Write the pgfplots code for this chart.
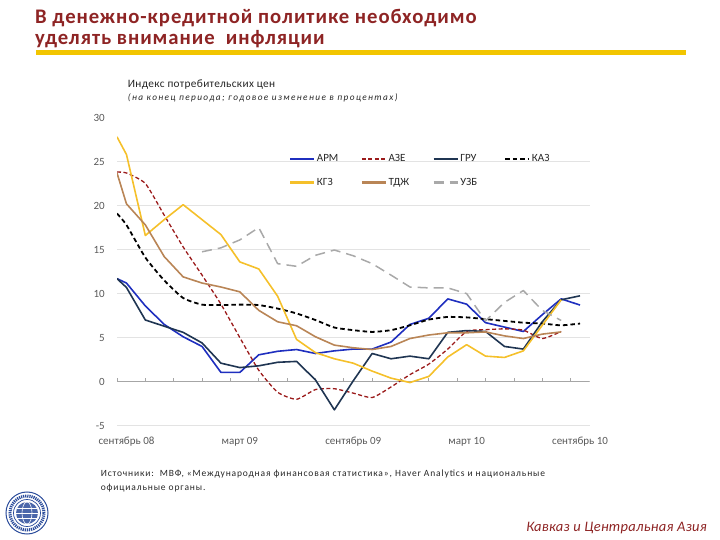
\documentclass[border=0pt]{standalone}
\usepackage{pgfplots}
\pgfplotsset{compat=1.18}
\usepackage{fontspec}
\setmainfont{Carlito}
\definecolor{titlered}{HTML}{8E2424}
\definecolor{baryellow}{HTML}{F2C500}
\definecolor{armc}{HTML}{1F2FBF}
\definecolor{azec}{HTML}{9B1B1B}
\definecolor{gruc}{HTML}{1F3552}
\definecolor{kazc}{HTML}{000000}
\definecolor{kgzc}{HTML}{F5C02A}
\definecolor{tjkc}{HTML}{B98556}
\definecolor{uzbc}{HTML}{A9A9A9}
\definecolor{labgray}{HTML}{595959}
\definecolor{gridc}{HTML}{E3E3E3}
\definecolor{axisc}{HTML}{A6A6A6}
\definecolor{imfblue}{HTML}{2B4C9B}
\definecolor{txt}{HTML}{262626}
\begin{document}
\begin{tikzpicture}
\path[use as bounding box] (0bp,0bp) rectangle (720bp,540bp);
% title
\node[anchor=base west, inner sep=0pt, text=titlered, font=\fontsize{20.7bp}{24bp}\selectfont\bfseries\addfontfeatures{LetterSpace=4.6}] at (35bp,516.7bp) {В денежно-кредитной политике необходимо};
\node[anchor=base west, inner sep=0pt, text=titlered, font=\fontsize{20.7bp}{24bp}\selectfont\bfseries\addfontfeatures{LetterSpace=4.5}] at (35bp,495bp) {уделять внимание\ \ инфляции};
\fill[baryellow] (36bp,485bp) rectangle (686bp,489.5bp);
% subtitle
\node[anchor=base west, inner sep=0pt, font=\fontsize{11.3bp}{13bp}\selectfont\addfontfeatures{LetterSpace=3}, text=txt] at (127.7bp,452bp) {Индекс потребительских цен};
\node[anchor=base west, inner sep=0pt, font=\fontsize{9.3bp}{11bp}\selectfont\itshape\addfontfeatures{LetterSpace=15}, text=txt] at (127.7bp,439bp) {(на конец периода; годовое изменение в процентах)};
\begin{axis}[
  at={(117bp,114.3bp)}, anchor=south west,
  scale only axis, width=472.5bp, height=308.2bp,
  xmin=-0.5, xmax=24.5, ymin=-5, ymax=30,
  axis line style={draw=none},
  tick style={draw=none},
  xtick={0,6,12,18,24},
  xticklabels={сентябрь 08, март 09, сентябрь 09, март 10, сентябрь 10},
  ytick={-5,0,5,10,15,20,25},
  extra y ticks={30},
  extra y tick style={grid=none},
  ymajorgrids, grid style={gridc, line width=0.8bp},
  ticklabel style={font=\fontsize{11bp}{13bp}\selectfont, text=labgray, inner sep=0pt},
  xticklabel style={anchor=center, yshift=-16bp},
  yticklabel style={anchor=east, xshift=-12bp},
  /pgf/number format/assume math mode=true,
  legend columns=4,
  legend cell align=left,
  legend style={at={(0.364,0.885)}, anchor=north west, draw=none, fill=none, inner sep=0pt,
    font=\fontsize{11bp}{13bp}\selectfont, text=txt, column sep=0pt, row sep=12bp,
    nodes={inner sep=1.5bp}},
  legend image code/.code={\draw[#1, line width=2.2bp] (0bp,0bp) -- (24bp,0bp);},
  line join=round,
]
\draw[axisc, line width=0.8bp] (axis cs:-0.5,0) -- (axis cs:24.5,0);
\pgfplotsinvokeforeach{-0.5,1,2.5,4,5.5,7,8.5,10,11.5,13,14.5,16,17.5,19,20.5,22,23.5}{
  \draw[axisc, line width=0.8bp] (axis cs:#1,0) -- ++(0bp,4bp);
}
% ARM
\addplot[armc, line width=1.6bp] coordinates {
(-0.5,11.7) (0,11.2) (1,8.6) (2,6.5) (3,5.1) (4,4.0) (5,1.05) (6,1.05) (7,3.05) (8,3.45) (9,3.65) (10,3.2) (11,3.5) (12,3.7) (13,3.7) (14,4.5) (15,6.5) (16,7.2) (17,9.4) (18,8.8) (19,6.7) (20,6.2) (21,5.7) (22,7.6) (23,9.4) (24,8.7)};
\addlegendentry{\makebox[42.5bp][l]{АРМ}}
% AZE
\addplot[azec, line width=1.3bp, dash pattern=on 4bp off 2.5bp, smooth, tension=0.35] coordinates {
(-0.5,23.8) (0,23.7) (1,22.5) (2,18.9) (3,15.3) (4,12.1) (5,8.8) (6,5.0) (7,1.3) (8,-1.2) (9,-2.0) (10,-0.9) (11,-0.8) (12,-1.3) (13,-1.8) (14,-0.6) (15,0.8) (16,2.0) (17,3.7) (18,5.7) (19,5.9) (20,6.0) (21,5.85) (22,4.9) (23,5.7)};
\addlegendentry{\makebox[42.5bp][l]{АЗЕ}}
% GRU
\addplot[gruc, line width=1.6bp] coordinates {
(-0.5,11.7) (0,10.7) (1,7.0) (2,6.3) (3,5.6) (4,4.4) (5,2.1) (6,1.6) (7,1.8) (8,2.2) (9,2.3) (10,0.2) (11,-3.2) (12,0.1) (13,3.2) (14,2.6) (15,2.9) (16,2.6) (17,5.6) (18,5.8) (19,5.7) (20,4.0) (21,3.7) (22,6.8) (23,9.3) (24,9.75)};
\addlegendentry{\makebox[42.5bp][l]{ГРУ}}
% KAZ
\addplot[kazc, line width=1.8bp, dash pattern=on 4.5bp off 3bp, smooth, tension=0.35] coordinates {
(-0.5,19.1) (0,17.8) (1,14.1) (2,11.5) (3,9.5) (4,8.75) (5,8.7) (6,8.75) (7,8.7) (8,8.3) (9,7.75) (10,7.0) (11,6.15) (12,5.85) (13,5.65) (14,5.85) (15,6.4) (16,7.05) (17,7.35) (18,7.3) (19,7.1) (20,6.9) (21,6.7) (22,6.6) (23,6.4) (24,6.6)};
\addlegendentry{\makebox[42.5bp][l]{КАЗ}}
% KGZ
\addplot[kgzc, line width=1.6bp] coordinates {
(-0.5,27.8) (0,25.8) (1,16.6) (2,18.4) (3,20.1) (4,18.4) (5,16.7) (6,13.6) (7,12.8) (8,9.7) (9,4.8) (10,3.3) (11,2.6) (12,2.1) (13,1.2) (14,0.4) (15,-0.1) (16,0.6) (17,2.8) (18,4.2) (19,2.9) (20,2.75) (21,3.5) (22,6.4) (23,9.3)};
\addlegendentry{\makebox[42.5bp][l]{КГЗ}}
% TJK
\addplot[tjkc, line width=1.6bp] coordinates {
(-0.5,23.7) (0,20.2) (1,17.8) (2,14.2) (3,11.9) (4,11.2) (5,10.75) (6,10.2) (7,8.1) (8,6.8) (9,6.35) (10,5.1) (11,4.15) (12,3.85) (13,3.65) (14,4.0) (15,4.9) (16,5.3) (17,5.55) (18,5.55) (19,5.65) (20,5.2) (21,4.9) (22,5.4) (23,5.65)};
\addlegendentry{\makebox[42.5bp][l]{ТДЖ}}
% UZB
\addplot[uzbc, line width=1.5bp, dash pattern=on 10bp off 6bp] coordinates {
(4,14.75) (5,15.2) (6,16.1) (7,17.5) (8,13.4) (9,13.1) (10,14.35) (11,14.95) (12,14.3) (13,13.4) (14,12.1) (15,10.75) (16,10.65) (17,10.65) (18,10.0) (19,6.9) (20,9.0) (21,10.35) (22,8.1) (23,6.95)};
\addlegendentry{\makebox[42.5bp][l]{УЗБ}}
\end{axis}
% sources
\node[anchor=base west, inner sep=0pt, font=\fontsize{9.5bp}{11bp}\selectfont\addfontfeatures{LetterSpace=9}, text=txt] at (100.6bp,63bp) {Источники:\ \ МВФ, «Международная финансовая статистика», Haver Analytics и национальные};
\node[anchor=base west, inner sep=0pt, font=\fontsize{9.5bp}{11bp}\selectfont\addfontfeatures{LetterSpace=9}, text=txt] at (100.6bp,49bp) {официальные органы.};
\node[anchor=base east, inner sep=0pt, font=\fontsize{14.5bp}{16bp}\selectfont\itshape\addfontfeatures{LetterSpace=2}, text=titlered] at (707bp,9bp) {Кавказ и Центральная Азия};
% logo
\begin{scope}[shift={(27bp,27bp)}]
\draw[imfblue, line width=1bp] (0,0) circle (21bp);
\draw[imfblue, line width=3bp, dash pattern=on 1.2bp off 0.9bp] (0,0) circle (17bp);
\draw[imfblue, line width=0.7bp] (0,0) circle (13.5bp);
\fill[imfblue!85] (0,0) circle (11bp);
\draw[white, line width=0.6bp] (0,0) ellipse (5bp and 11bp);
\draw[white, line width=0.6bp] (-11bp,0) -- (11bp,0);
\draw[white, line width=0.6bp] (-10bp,5bp) -- (10bp,5bp);
\draw[white, line width=0.6bp] (-10bp,-5bp) -- (10bp,-5bp);
\end{scope}
\end{tikzpicture}
\end{document}
